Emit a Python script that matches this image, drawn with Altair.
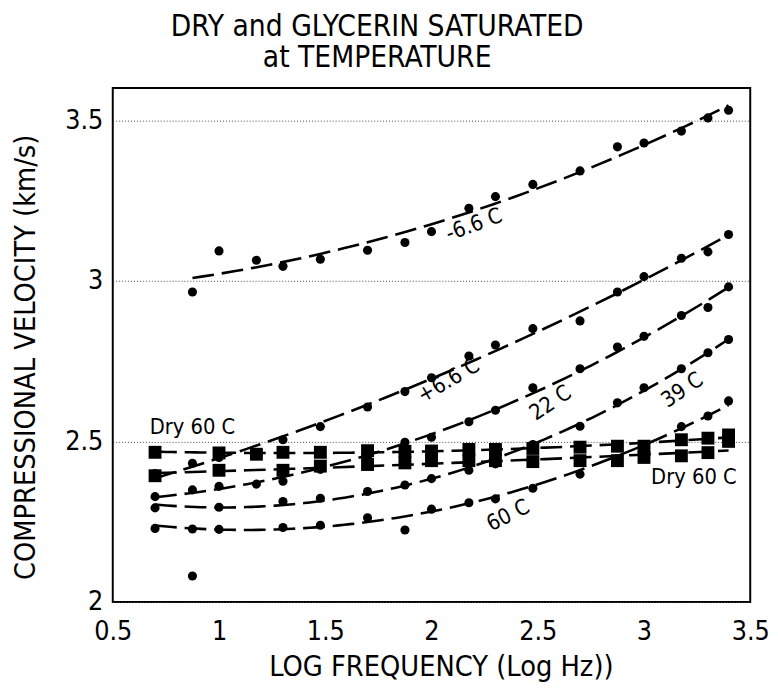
import altair as alt
import pandas as pd

# log10 frequency (Hz) of the measurements
log_freq = [0.699, 0.875, 1.0, 1.176, 1.301, 1.477, 1.699, 1.875, 2.0,
            2.176, 2.301, 2.477, 2.699, 2.875, 3.0, 3.176, 3.301, 3.398]

# glycerin saturated, compressional velocity (km/s)
v_m66 = [None, 2.965, 3.093, 3.064, 3.045, 3.067, 3.095, 3.119, 3.153,
         3.226, 3.262, 3.300, 3.342, 3.417, 3.429, 3.466, 3.507, 3.531]
v_p66 = [2.400, 2.432, 2.450, 2.462, 2.505, 2.546, 2.607, 2.655, 2.698,
         2.766, 2.800, 2.851, 2.875, 2.965, 3.013, 3.070, 3.090, 3.144]
v_22 = [2.328, 2.349, 2.360, 2.367, 2.376, 2.413, 2.450, 2.497, 2.513,
        2.561, 2.597, 2.667, 2.726, 2.794, 2.827, 2.892, 2.917, 2.981]
v_39 = [2.293, 2.081, 2.295, None, 2.313, 2.323, 2.344, 2.364, 2.384,
        2.410, 2.430, 2.490, 2.547, 2.620, 2.667, 2.726, 2.776, 2.817]
v_60 = [2.229, 2.227, 2.226, None, 2.232, 2.239, 2.262, 2.224, 2.289,
        2.309, 2.321, 2.354, 2.398, 2.445, 2.485, 2.546, 2.579, 2.626]
# dry 60 C (two runs)
v_dry_a = [2.466, None, 2.464, 2.460, 2.466, 2.466, 2.471, 2.469, 2.470,
           2.475, 2.475, 2.478, 2.482, 2.485, 2.485, 2.505, 2.510, 2.520]
v_dry_b = [2.393, None, 2.410, None, 2.410, 2.423, 2.428, 2.433, 2.440,
           2.440, 2.440, 2.437, 2.440, 2.440, 2.450, 2.455, 2.465, 2.500]

# points left out of the fitted curves (series, log freq)
not_fitted = [("39 C", 0.875), ("60 C", 1.875)]

# curve labels
label_text = ["-6.6 C", "+6.6 C", "22 C", "39 C", "60 C", "Dry 60 C", "Dry 60 C"]
label_x = [2.20, 2.08, 2.56, 3.18, 2.36, 0.875, 3.235]
label_y = [3.175, 2.69, 2.62, 2.66, 2.27, 2.546, 2.39]
label_angle = [340, 330, 326, 326, 333, 0, 0]

series = {"-6.6 C": v_m66, "+6.6 C": v_p66, "22 C": v_22, "39 C": v_39,
          "60 C": v_60, "Dry A": v_dry_a, "Dry B": v_dry_b}

rows = []
for name, vals in series.items():
    for xv, yv in zip(log_freq, vals):
        if yv is None:
            continue
        rows.append({"x": xv, "y": yv, "series": name,
                     "dry": name.startswith("Dry"),
                     "fit": (name, xv) not in not_fitted})
df = pd.DataFrame(rows)
labels = pd.DataFrame({"text": label_text, "x": label_x, "y": label_y,
                       "angle": label_angle})

FONT = "Liberation Sans Narrow, DejaVu Sans Condensed, Liberation Sans"

xs = alt.Scale(domain=[0.5, 3.5], nice=False, zero=False)
ys = alt.Scale(domain=[2, 3.6], nice=False, zero=False)

X = alt.X("x:Q", scale=xs, title="LOG FREQUENCY (Log Hz))",
          axis=alt.Axis(values=[0.5, 1, 1.5, 2, 2.5, 3, 3.5], format="~g",
                        grid=False, ticks=False, domain=False,
                        labelFlush=False, labelPadding=17, titlePadding=8,
                        titleX=332))
Y = alt.Y("y:Q", scale=ys, title="COMPRESSIONAL VELOCITY (km/s)",
          axis=alt.Axis(values=[2, 2.5, 3, 3.5], format="~g", grid=True,
                        gridDash=[1, 2], gridColor="#444", gridWidth=1,
                        ticks=False, domain=False, labelFlush=False,
                        labelPadding=10, titlePadding=25, titleY=272))

base = alt.Chart(df)

curves = base.transform_filter("datum.fit").transform_regression(
    "x", "y", groupby=["series"], method="poly", order=2
).mark_line(color="black", strokeWidth=2.6, strokeDash=[22, 8]).encode(
    x=X, y=Y, detail="series:N")

circles = base.transform_filter("!datum.dry").mark_circle(
    color="black", opacity=1, size=85).encode(x=X, y=Y)

squares = base.transform_filter("datum.dry").mark_square(
    color="black", opacity=1, size=170).encode(x=X, y=Y)

texts = alt.Chart(labels).mark_text(
    font=FONT, fontSize=22, color="black").encode(
    x=alt.X("x:Q", scale=xs), y=alt.Y("y:Q", scale=ys),
    text="text:N", angle=alt.Angle("angle:Q", scale=None))

chart = alt.layer(curves, circles, squares, texts).properties(
    width=645, height=520,
    padding={"left": 3, "top": 0, "right": 0, "bottom": 0},
    title=alt.TitleParams(["DRY and GLYCERIN SATURATED", "at TEMPERATURE"],
                          fontSize=30, fontWeight="normal", font=FONT,
                          lineHeight=32, anchor="middle", dx=-55,
                          offset=15, color="black"),
).configure_view(stroke="black", strokeWidth=2).configure_axis(
    labelFont=FONT, titleFont=FONT, labelFontSize=27, titleFontSize=29,
    titleFontWeight="normal", labelColor="black", titleColor="black")

chart.save("out.html", embed_options={"renderer": "svg", "actions": False})
